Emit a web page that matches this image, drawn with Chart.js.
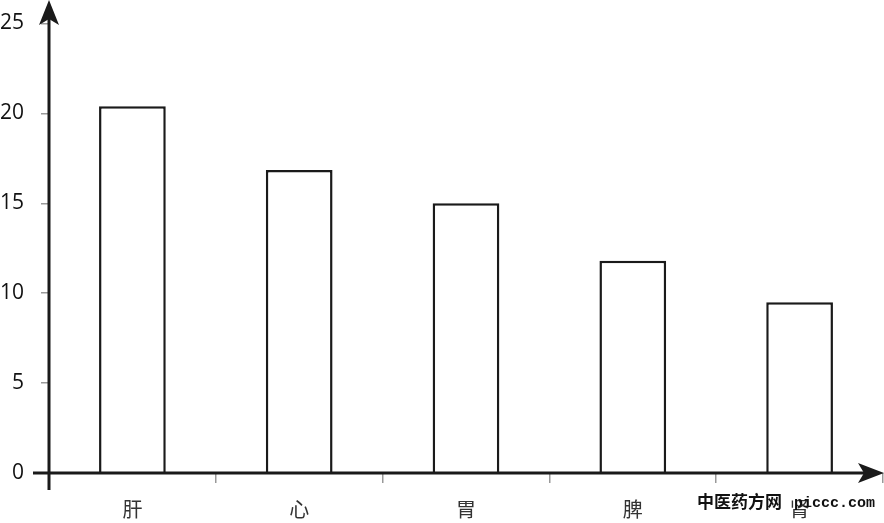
<!DOCTYPE html>
<html>
<head>
<meta charset="utf-8">
<script src="https://cdn.jsdelivr.net/npm/chart.js@4"></script>
<style>
  html, body { margin: 0; padding: 0; background: #fff; }
  #wrap { width: 884px; height: 523px; }
</style>
</head>
<body>
<div id="wrap"><canvas id="myChart" width="884" height="523"></canvas></div>
<script>
const organs = ['肝', '心', '胃', '脾', '肾'];
const values = [20.4, 16.85, 15.0, 11.8, 9.5];
const yTicks = [0, 5, 10, 15, 20, 25];

// axes with arrow heads + watermark
const axisArrows = {
  id: 'axisArrows',
  afterDraw(chart) {
    const ctx = chart.ctx;
    const x0 = chart.scales.x.left;
    const y0 = chart.scales.y.getPixelForValue(0);
    ctx.save();
    ctx.strokeStyle = '#1a1a1a';
    ctx.fillStyle = '#1a1a1a';
    ctx.lineWidth = 3;
    ctx.beginPath();
    ctx.moveTo(x0, 12);
    ctx.lineTo(x0, 490);
    ctx.moveTo(33, y0);
    ctx.lineTo(872, y0);
    ctx.stroke();
    // up arrow
    ctx.beginPath();
    ctx.moveTo(x0, 0);
    ctx.lineTo(x0 + 10, 25);
    ctx.lineTo(x0, 19);
    ctx.lineTo(x0 - 10, 25);
    ctx.closePath();
    ctx.fill();
    // right arrow
    ctx.beginPath();
    ctx.moveTo(884, y0);
    ctx.lineTo(858, y0 - 10);
    ctx.lineTo(864, y0);
    ctx.lineTo(858, y0 + 10);
    ctx.closePath();
    ctx.fill();
    // watermark
    ctx.textBaseline = 'middle';
    ctx.fillStyle = '#111';
    ctx.font = 'bold 17px "Noto Sans CJK SC"';
    ctx.fillText('中医药方网', 697, 502);
    ctx.font = 'bold 15px "Liberation Mono"';
    ctx.fillText('piccc.com', 794, 503);
    ctx.restore();
  }
};

new Chart(document.getElementById('myChart'), {
  type: 'bar',
  data: {
    labels: organs,
    datasets: [{
      data: values,
      backgroundColor: '#fff',
      borderColor: '#1a1a1a',
      borderWidth: 2.5,
      borderSkipped: 'bottom',
      categoryPercentage: 1,
      barPercentage: 0.4
    }]
  },
  options: {
    responsive: false,
    animation: false,
    layout: { padding: { top: 23.5, right: 1, left: 0, bottom: 0 } },
    plugins: { legend: { display: false }, tooltip: { enabled: false } },
    scales: {
      x: {
        afterFit(scale) { scale.height = 50; scale.paddingLeft = 0; scale.paddingRight = 0; },
        border: { display: false },
        grid: { drawOnChartArea: false, drawTicks: true, tickLength: 10, tickColor: '#999', lineWidth: 1.5 },
        ticks: { color: '#333', padding: 14, font: { family: '"Noto Sans CJK SC"', size: 20 } }
      },
      y: {
        min: 0, max: 25,
        afterFit(scale) { scale.width = 49; scale.paddingTop = 0; scale.paddingBottom = 0; },
        afterBuildTicks(scale) { scale.ticks = yTicks.map(v => ({ value: v })); },
        border: { display: false },
        grid: { drawOnChartArea: false, drawTicks: true, tickLength: 8, tickColor: '#999', lineWidth: 1.5 },
        ticks: { color: '#111', padding: 17, font: { family: '"Open Sans"', size: 21 } }
      }
    }
  },
  plugins: [axisArrows]
});
</script>
</body>
</html>
